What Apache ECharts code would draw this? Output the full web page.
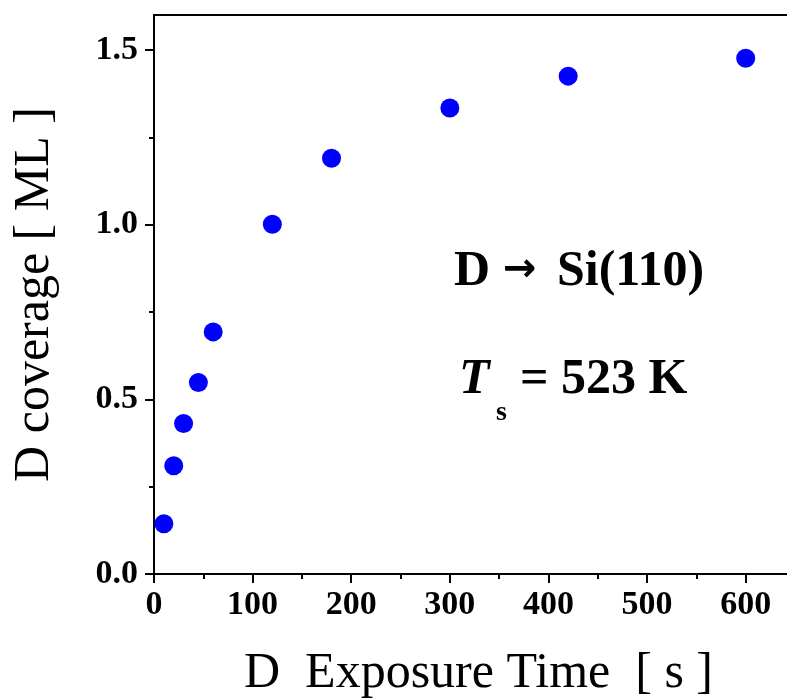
<!DOCTYPE html>
<html>
<head>
<meta charset="utf-8">
<script src="https://cdn.jsdelivr.net/npm/echarts@6/dist/echarts.min.js"></script>
<style>html,body{margin:0;padding:0;background:#fff;}#chart{width:787px;height:699px;}</style>
</head>
<body>
<div id="chart"></div>
<script>
// Data
const exposureTime = [10, 20, 30, 45, 60, 120, 180, 300, 420, 600];
const dCoverage = [0.144, 0.310, 0.431, 0.548, 0.693, 1.001, 1.19, 1.334, 1.425, 1.476];
const xMajorTicks = [0, 100, 200, 300, 400, 500, 600];
const xMinorTicks = [50, 150, 250, 350, 450, 550];
const yMajorTicks = [0, 0.5, 1.0, 1.5];
const yMinorTicks = [0.25, 0.75, 1.25];

const serif = '"Liberation Serif", "Times New Roman", serif';
const chart = echarts.init(document.getElementById('chart'), null, {renderer: 'canvas'});

const labelStyle = {fontFamily: serif, fontWeight: 'bold', fontSize: 34, color: '#000'};

chart.setOption({
  backgroundColor: '#fff',
  animation: false,
  grid: {left: 154, top: 15, width: 641, height: 559, show: true, borderColor: '#000', borderWidth: 2, backgroundColor: 'transparent', containLabel: false, outerBoundsMode: 'none'},
  xAxis: [{
    type: 'value', min: 0, max: 650,
    name: 'D  Exposure Time  [ s ]', nameLocation: 'middle', nameGap: 75,
    nameTextStyle: {fontFamily: serif, fontSize: 50, color: '#000', padding: [0, 0, 0, 8]},
    axisLine: {show: true, lineStyle: {color: '#000', width: 2}},
    axisTick: {show: true, customValues: xMajorTicks, length: 9, lineStyle: {color: '#000', width: 2}},
    axisLabel: Object.assign({customValues: xMajorTicks, margin: 14}, labelStyle),
    splitLine: {show: false}
  }, {
    type: 'value', min: 0, max: 650, position: 'bottom',
    axisLine: {show: false},
    axisTick: {show: true, customValues: xMinorTicks, length: 5, lineStyle: {color: '#000', width: 2}},
    axisLabel: {show: false},
    splitLine: {show: false}
  }],
  yAxis: [{
    type: 'value', min: 0, max: 1.6,
    name: 'D coverage [ ML ]', nameLocation: 'middle', nameGap: 94,
    nameTextStyle: {fontFamily: serif, fontSize: 50, color: '#000'},
    axisLine: {show: true, lineStyle: {color: '#000', width: 2}},
    axisTick: {show: true, customValues: yMajorTicks, length: 9, lineStyle: {color: '#000', width: 2}},
    axisLabel: Object.assign({customValues: yMajorTicks, margin: 16, formatter: v => v.toFixed(1)}, labelStyle),
    splitLine: {show: false}
  }, {
    type: 'value', min: 0, max: 1.6, position: 'left',
    axisLine: {show: false},
    axisTick: {show: true, customValues: yMinorTicks, length: 5, lineStyle: {color: '#000', width: 2}},
    axisLabel: {show: false},
    splitLine: {show: false}
  }],
  series: [{
    type: 'scatter',
    xAxisIndex: 0, yAxisIndex: 0,
    data: exposureTime.map((t, i) => [t, dCoverage[i]]),
    symbol: 'circle', symbolSize: 19,
    itemStyle: {color: '#0000ff', opacity: 1}
  }],
  graphic: [
    {type: 'text', x: 454, y: 272, style: {text: 'D', font: 'bold 50px ' + serif, fill: '#000', verticalAlign: 'middle', align: 'left'}},
    {type: 'text', x: 503, y: 271, style: {text: '\u2192', font: 'bold 40px "DejaVu Sans"', fill: '#000', verticalAlign: 'middle', align: 'left'}},
    {type: 'text', x: 557, y: 272, style: {text: 'Si(110)', font: 'bold 50px ' + serif, fill: '#000', verticalAlign: 'middle', align: 'left'}},
    {type: 'text', x: 459, y: 380, style: {text: 'T', font: 'italic bold 50px ' + serif, fill: '#000', verticalAlign: 'middle', align: 'left'}},
    {type: 'text', x: 496, y: 413, style: {text: 's', font: 'bold 28px ' + serif, fill: '#000', verticalAlign: 'middle', align: 'left'}},
    {type: 'text', x: 520, y: 380, style: {text: '= 523 K', font: 'bold 50px ' + serif, fill: '#000', verticalAlign: 'middle', align: 'left'}}
  ]
});
</script>
</body>
</html>
